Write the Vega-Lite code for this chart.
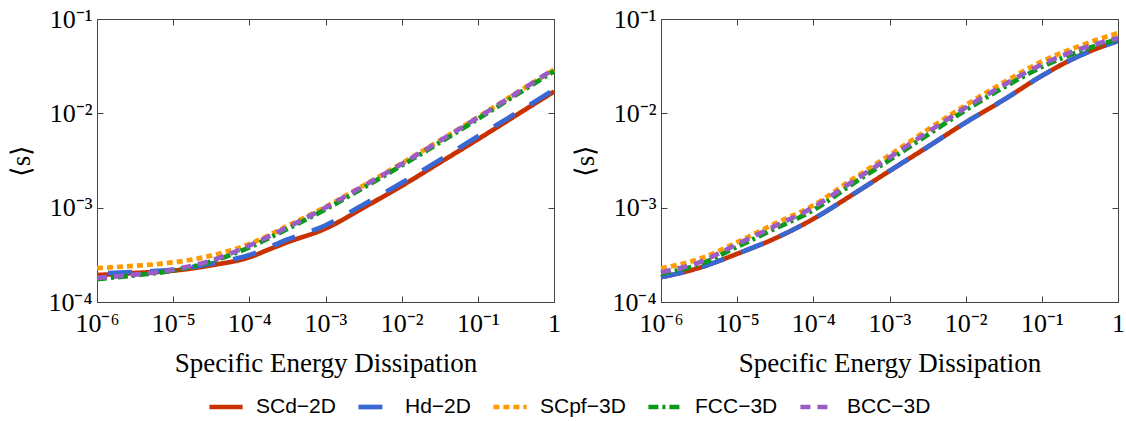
{
  "$schema": "https://vega.github.io/schema/vega-lite/v6.json",
  "background": "white",
  "padding": {"left": 7, "top": 5, "right": 0, "bottom": 0},
  "spacing": 107,
  "bounds": "flush",
  "datasets": {
    "left": [
      {"series": "SCd−2D", "x": 1e-6, "y": 1.93e-4},
      {"series": "SCd−2D", "x": 3.16e-6, "y": 2.03e-4},
      {"series": "SCd−2D", "x": 1e-5, "y": 2.15e-4},
      {"series": "SCd−2D", "x": 3.16e-5, "y": 2.45e-4},
      {"series": "SCd−2D", "x": 1e-4, "y": 2.98e-4},
      {"series": "SCd−2D", "x": 1.8e-4, "y": 3.6e-4},
      {"series": "SCd−2D", "x": 3.16e-4, "y": 4.3e-4},
      {"series": "SCd−2D", "x": 1e-3, "y": 6.0e-4},
      {"series": "SCd−2D", "x": 3.16e-3, "y": 1.0e-3},
      {"series": "SCd−2D", "x": 1e-2, "y": 1.7e-3},
      {"series": "SCd−2D", "x": 3.16e-2, "y": 3.0e-3},
      {"series": "SCd−2D", "x": 1e-1, "y": 5.3e-3},
      {"series": "SCd−2D", "x": 3.16e-1, "y": 9.5e-3},
      {"series": "SCd−2D", "x": 1, "y": 1.7e-2},
      {"series": "Hd−2D", "x": 1.4e-6, "y": 2.02e-4},
      {"series": "Hd−2D", "x": 3.16e-6, "y": 2.08e-4},
      {"series": "Hd−2D", "x": 1e-5, "y": 2.2e-4},
      {"series": "Hd−2D", "x": 3.16e-5, "y": 2.55e-4},
      {"series": "Hd−2D", "x": 1e-4, "y": 3.15e-4},
      {"series": "Hd−2D", "x": 3.16e-4, "y": 4.6e-4},
      {"series": "Hd−2D", "x": 1e-3, "y": 6.5e-4},
      {"series": "Hd−2D", "x": 3.16e-3, "y": 1.08e-3},
      {"series": "Hd−2D", "x": 1e-2, "y": 1.83e-3},
      {"series": "Hd−2D", "x": 3.16e-2, "y": 3.2e-3},
      {"series": "Hd−2D", "x": 1e-1, "y": 5.7e-3},
      {"series": "Hd−2D", "x": 3.16e-1, "y": 1.0e-2},
      {"series": "Hd−2D", "x": 1, "y": 1.78e-2},
      {"series": "SCpf−3D", "x": 1e-6, "y": 2.29e-4},
      {"series": "SCpf−3D", "x": 3.16e-6, "y": 2.42e-4},
      {"series": "SCpf−3D", "x": 1e-5, "y": 2.63e-4},
      {"series": "SCpf−3D", "x": 3.16e-5, "y": 3.1e-4},
      {"series": "SCpf−3D", "x": 1e-4, "y": 4.12e-4},
      {"series": "SCpf−3D", "x": 3.16e-4, "y": 6.4e-4},
      {"series": "SCpf−3D", "x": 1e-3, "y": 1.02e-3},
      {"series": "SCpf−3D", "x": 3.16e-3, "y": 1.72e-3},
      {"series": "SCpf−3D", "x": 1e-2, "y": 2.95e-3},
      {"series": "SCpf−3D", "x": 3.16e-2, "y": 5.15e-3},
      {"series": "SCpf−3D", "x": 1e-1, "y": 9.1e-3},
      {"series": "SCpf−3D", "x": 3.16e-1, "y": 1.63e-2},
      {"series": "SCpf−3D", "x": 1, "y": 2.9e-2},
      {"series": "FCC−3D", "x": 1e-6, "y": 1.75e-4},
      {"series": "FCC−3D", "x": 3.16e-6, "y": 1.92e-4},
      {"series": "FCC−3D", "x": 1e-5, "y": 2.15e-4},
      {"series": "FCC−3D", "x": 3.16e-5, "y": 2.68e-4},
      {"series": "FCC−3D", "x": 1e-4, "y": 3.8e-4},
      {"series": "FCC−3D", "x": 3.16e-4, "y": 5.95e-4},
      {"series": "FCC−3D", "x": 1e-3, "y": 9.6e-4},
      {"series": "FCC−3D", "x": 3.16e-3, "y": 1.63e-3},
      {"series": "FCC−3D", "x": 1e-2, "y": 2.8e-3},
      {"series": "FCC−3D", "x": 3.16e-2, "y": 4.9e-3},
      {"series": "FCC−3D", "x": 1e-1, "y": 8.7e-3},
      {"series": "FCC−3D", "x": 3.16e-1, "y": 1.56e-2},
      {"series": "FCC−3D", "x": 1, "y": 2.8e-2},
      {"series": "BCC−3D", "x": 1e-6, "y": 1.8e-4},
      {"series": "BCC−3D", "x": 3.16e-6, "y": 1.95e-4},
      {"series": "BCC−3D", "x": 1e-5, "y": 2.2e-4},
      {"series": "BCC−3D", "x": 3.16e-5, "y": 2.75e-4},
      {"series": "BCC−3D", "x": 1e-4, "y": 3.96e-4},
      {"series": "BCC−3D", "x": 3.16e-4, "y": 6.2e-4},
      {"series": "BCC−3D", "x": 1e-3, "y": 1.0e-3},
      {"series": "BCC−3D", "x": 3.16e-3, "y": 1.7e-3},
      {"series": "BCC−3D", "x": 1e-2, "y": 2.9e-3},
      {"series": "BCC−3D", "x": 3.16e-2, "y": 5.1e-3},
      {"series": "BCC−3D", "x": 1e-1, "y": 9.0e-3},
      {"series": "BCC−3D", "x": 3.16e-1, "y": 1.62e-2},
      {"series": "BCC−3D", "x": 1, "y": 2.95e-2}
    ],
    "right": [
      {"series": "SCd−2D", "x": 1e-6, "y": 1.83e-4},
      {"series": "SCd−2D", "x": 3.16e-6, "y": 2.3e-4},
      {"series": "SCd−2D", "x": 1e-5, "y": 3.24e-4},
      {"series": "SCd−2D", "x": 3.16e-5, "y": 4.73e-4},
      {"series": "SCd−2D", "x": 1e-4, "y": 7.6e-4},
      {"series": "SCd−2D", "x": 3.16e-4, "y": 1.35e-3},
      {"series": "SCd−2D", "x": 1e-3, "y": 2.45e-3},
      {"series": "SCd−2D", "x": 3.16e-3, "y": 4.4e-3},
      {"series": "SCd−2D", "x": 1e-2, "y": 8.0e-3},
      {"series": "SCd−2D", "x": 3.16e-2, "y": 1.39e-2},
      {"series": "SCd−2D", "x": 1e-1, "y": 2.5e-2},
      {"series": "SCd−2D", "x": 3.16e-1, "y": 4.1e-2},
      {"series": "SCd−2D", "x": 1, "y": 5.85e-2},
      {"series": "Hd−2D", "x": 1e-6, "y": 1.83e-4},
      {"series": "Hd−2D", "x": 3.16e-6, "y": 2.3e-4},
      {"series": "Hd−2D", "x": 1e-5, "y": 3.24e-4},
      {"series": "Hd−2D", "x": 3.16e-5, "y": 4.73e-4},
      {"series": "Hd−2D", "x": 1e-4, "y": 7.6e-4},
      {"series": "Hd−2D", "x": 3.16e-4, "y": 1.35e-3},
      {"series": "Hd−2D", "x": 1e-3, "y": 2.45e-3},
      {"series": "Hd−2D", "x": 3.16e-3, "y": 4.4e-3},
      {"series": "Hd−2D", "x": 1e-2, "y": 8.0e-3},
      {"series": "Hd−2D", "x": 3.16e-2, "y": 1.39e-2},
      {"series": "Hd−2D", "x": 1e-1, "y": 2.5e-2},
      {"series": "Hd−2D", "x": 3.16e-1, "y": 4.1e-2},
      {"series": "Hd−2D", "x": 1, "y": 5.85e-2},
      {"series": "SCpf−3D", "x": 1e-6, "y": 2.28e-4},
      {"series": "SCpf−3D", "x": 3.16e-6, "y": 2.85e-4},
      {"series": "SCpf−3D", "x": 1e-5, "y": 4.3e-4},
      {"series": "SCpf−3D", "x": 3.16e-5, "y": 6.8e-4},
      {"series": "SCpf−3D", "x": 1e-4, "y": 1.06e-3},
      {"series": "SCpf−3D", "x": 3.16e-4, "y": 1.97e-3},
      {"series": "SCpf−3D", "x": 1e-3, "y": 3.6e-3},
      {"series": "SCpf−3D", "x": 3.16e-3, "y": 6.7e-3},
      {"series": "SCpf−3D", "x": 1e-2, "y": 1.22e-2},
      {"series": "SCpf−3D", "x": 3.16e-2, "y": 2.13e-2},
      {"series": "SCpf−3D", "x": 1e-1, "y": 3.55e-2},
      {"series": "SCpf−3D", "x": 3.16e-1, "y": 5.2e-2},
      {"series": "SCpf−3D", "x": 1, "y": 7.1e-2},
      {"series": "FCC−3D", "x": 1e-6, "y": 2.0e-4},
      {"series": "FCC−3D", "x": 3.16e-6, "y": 2.5e-4},
      {"series": "FCC−3D", "x": 1e-5, "y": 3.85e-4},
      {"series": "FCC−3D", "x": 3.16e-5, "y": 6.0e-4},
      {"series": "FCC−3D", "x": 1e-4, "y": 9.4e-4},
      {"series": "FCC−3D", "x": 3.16e-4, "y": 1.75e-3},
      {"series": "FCC−3D", "x": 1e-3, "y": 3.2e-3},
      {"series": "FCC−3D", "x": 3.16e-3, "y": 5.9e-3},
      {"series": "FCC−3D", "x": 1e-2, "y": 1.08e-2},
      {"series": "FCC−3D", "x": 3.16e-2, "y": 1.88e-2},
      {"series": "FCC−3D", "x": 1e-1, "y": 3.1e-2},
      {"series": "FCC−3D", "x": 3.16e-1, "y": 4.55e-2},
      {"series": "FCC−3D", "x": 1, "y": 6.1e-2},
      {"series": "BCC−3D", "x": 1e-6, "y": 2.07e-4},
      {"series": "BCC−3D", "x": 3.16e-6, "y": 2.63e-4},
      {"series": "BCC−3D", "x": 1e-5, "y": 4.1e-4},
      {"series": "BCC−3D", "x": 3.16e-5, "y": 6.4e-4},
      {"series": "BCC−3D", "x": 1e-4, "y": 1.01e-3},
      {"series": "BCC−3D", "x": 3.16e-4, "y": 1.86e-3},
      {"series": "BCC−3D", "x": 1e-3, "y": 3.4e-3},
      {"series": "BCC−3D", "x": 3.16e-3, "y": 6.3e-3},
      {"series": "BCC−3D", "x": 1e-2, "y": 1.15e-2},
      {"series": "BCC−3D", "x": 3.16e-2, "y": 2.0e-2},
      {"series": "BCC−3D", "x": 1e-1, "y": 3.3e-2},
      {"series": "BCC−3D", "x": 3.16e-1, "y": 4.8e-2},
      {"series": "BCC−3D", "x": 1, "y": 6.3e-2}
    ]
  },
  "hconcat": [
    {
      "width": 457,
      "height": 283,
      "data": {"name": "left"},
      "layer": [
        {
          "mark": {"type": "line", "strokeWidth": 4.7, "interpolate": "monotone"},
          "encoding": {
            "x": {"field": "x", "type": "quantitative",
              "scale": {"type": "log", "domain": [1e-6, 1], "nice": false},
              "axis": {"orient": "bottom", "values": [1e-6, 1e-5, 1e-4, 1e-3, 1e-2, 1e-1, 1],
                "labelExpr": "datum.value >= 0.5 ? '1' : '10⁻' + ['','¹','²','³','⁴','⁵','⁶'][round(-log(datum.value)/LN10)]",
                "tickSize": -6, "labelPadding": 14, "title": "Specific Energy Dissipation", "titlePadding": 14}},
            "y": {"field": "y", "type": "quantitative",
              "scale": {"type": "log", "domain": [1e-4, 0.1], "nice": false},
              "axis": {"orient": "left", "values": [1e-4, 1e-3, 1e-2, 1e-1],
                "labelExpr": "'10⁻' + ['','¹','²','³','⁴','⁵','⁶'][round(-log(datum.value)/LN10)]",
                "tickSize": -6, "labelPadding": 11, "title": "⟨s⟩", "titlePadding": 12}},
            "color": {"field": "series", "type": "nominal",
              "scale": {"domain": ["SCd−2D", "Hd−2D", "SCpf−3D", "FCC−3D", "BCC−3D"],
                "range": ["#C83200", "#3768D4", "#FF9A00", "#0A9A1A", "#9A5CC6"]},
              "legend": {"title": null}},
            "strokeDash": {"field": "series", "type": "nominal",
              "scale": {"domain": ["SCd−2D", "Hd−2D", "SCpf−3D", "FCC−3D", "BCC−3D"],
                "range": [[1, 0], [24, 18], [6, 4], [10, 4, 3, 4], [10, 7]]},
              "legend": {"title": null}}
          }
        },
        {
          "mark": {"type": "point", "opacity": 0},
          "encoding": {
            "x": {"field": "x", "type": "quantitative",
              "axis": {"orient": "top", "values": [1e-6, 1e-5, 1e-4, 1e-3, 1e-2, 1e-1, 1], "labels": false, "tickSize": -6, "title": null}},
            "y": {"field": "y", "type": "quantitative",
              "axis": {"orient": "right", "values": [1e-4, 1e-3, 1e-2, 1e-1], "labels": false, "tickSize": -6, "title": null}}
          }
        }
      ],
      "resolve": {"axis": {"x": "independent", "y": "independent"}}
    },
    {
      "width": 457,
      "height": 283,
      "data": {"name": "right"},
      "layer": [
        {
          "mark": {"type": "line", "strokeWidth": 4.7, "interpolate": "monotone"},
          "encoding": {
            "x": {"field": "x", "type": "quantitative",
              "scale": {"type": "log", "domain": [1e-6, 1], "nice": false},
              "axis": {"orient": "bottom", "values": [1e-6, 1e-5, 1e-4, 1e-3, 1e-2, 1e-1, 1],
                "labelExpr": "datum.value >= 0.5 ? '1' : '10⁻' + ['','¹','²','³','⁴','⁵','⁶'][round(-log(datum.value)/LN10)]",
                "tickSize": -6, "labelPadding": 14, "title": "Specific Energy Dissipation", "titlePadding": 14}},
            "y": {"field": "y", "type": "quantitative",
              "scale": {"type": "log", "domain": [1e-4, 0.1], "nice": false},
              "axis": {"orient": "left", "values": [1e-4, 1e-3, 1e-2, 1e-1],
                "labelExpr": "'10⁻' + ['','¹','²','³','⁴','⁵','⁶'][round(-log(datum.value)/LN10)]",
                "tickSize": -6, "labelPadding": 11, "title": "⟨s⟩", "titlePadding": 12}},
            "color": {"field": "series", "type": "nominal",
              "scale": {"domain": ["SCd−2D", "Hd−2D", "SCpf−3D", "FCC−3D", "BCC−3D"],
                "range": ["#C83200", "#3768D4", "#FF9A00", "#0A9A1A", "#9A5CC6"]},
              "legend": {"title": null}},
            "strokeDash": {"field": "series", "type": "nominal",
              "scale": {"domain": ["SCd−2D", "Hd−2D", "SCpf−3D", "FCC−3D", "BCC−3D"],
                "range": [[1, 0], [24, 18], [6, 4], [10, 4, 3, 4], [10, 7]]},
              "legend": {"title": null}}
          }
        },
        {
          "mark": {"type": "point", "opacity": 0},
          "encoding": {
            "x": {"field": "x", "type": "quantitative",
              "axis": {"orient": "top", "values": [1e-6, 1e-5, 1e-4, 1e-3, 1e-2, 1e-1, 1], "labels": false, "tickSize": -6, "title": null}},
            "y": {"field": "y", "type": "quantitative",
              "axis": {"orient": "right", "values": [1e-4, 1e-3, 1e-2, 1e-1], "labels": false, "tickSize": -6, "title": null}}
          }
        }
      ],
      "resolve": {"axis": {"x": "independent", "y": "independent"}}
    }
  ],
  "config": {
    "view": {"stroke": "#444", "strokeWidth": 1},
    "axis": {
      "labelFont": "Liberation Serif", "labelFontSize": 26, "labelColor": "black",
      "titleFont": "Liberation Serif", "titleFontSize": 27, "titleFontWeight": "normal", "titleColor": "black",
      "domainColor": "#444", "tickColor": "#444", "grid": false, "labelFlush": false, "labelOverlap": false
    },
    "legend": {
      "orient": "none", "legendX": 110, "legendY": 369, "direction": "horizontal",
      "symbolType": "stroke", "symbolSize": 1100, "symbolStrokeWidth": 4.7,
      "labelFont": "Liberation Sans", "labelFontSize": 21, "labelColor": "black",
      "labelOffset": 11, "columnPadding": 13, "symbolOffset": 0
    }
  }
}
